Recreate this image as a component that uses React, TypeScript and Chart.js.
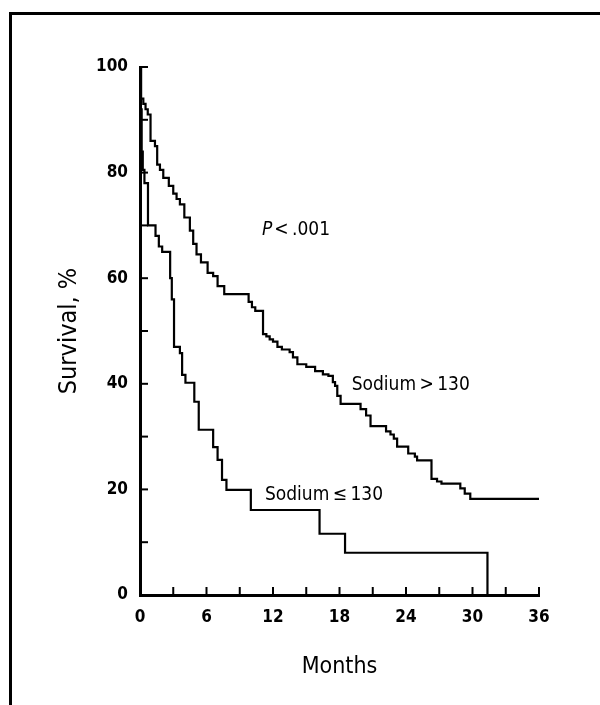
import React, { useEffect, useRef } from "react";
import { Chart, registerables } from "chart.js";

Chart.register(...registerables);

// ---- data ----
const lowMonths = [0, 0.05, 0.15, 0.25, 0.4, 0.72, 1.4, 1.7, 2.0, 2.72, 2.87, 3.07, 3.6, 3.8, 4.1, 4.9, 5.3, 6.6, 7.0, 7.4, 7.8, 10.0, 16.2, 18.5, 31.35];
const lowSurvival = [100, 92, 84, 80.5, 78, 70, 68, 66, 65, 60, 56, 47, 45.8, 41.7, 40.2, 36.6, 31.3, 28, 25.6, 21.8, 19.9, 16.1, 11.6, 8, 0];

const highMonths = [0, 0.1, 0.3, 0.5, 0.7, 0.95, 1.35, 1.55, 1.8, 2.1, 2.6, 3.0, 3.3, 3.6, 4.0, 4.5, 4.8, 5.1, 5.5, 6.1, 6.6, 7.0, 7.6, 9.8, 10.1, 10.4, 11.1, 11.4, 11.7, 12.0, 12.4, 12.8, 13.5, 13.8, 14.2, 15.0, 15.8, 16.5, 17.0, 17.4, 17.6, 17.8, 18.1, 19.9, 20.4, 20.8, 22.2, 22.6, 22.9, 23.2, 24.2, 24.8, 25.0, 26.3, 26.8, 27.2, 28.9, 29.3, 29.8, 36];
const highSurvival = [100, 94, 93, 92, 91, 86, 85, 81.5, 80.5, 79, 77.5, 76, 75, 74, 71.5, 69, 66.5, 64.5, 63, 61, 60.4, 58.5, 57, 55.5, 54.5, 53.8, 49.4, 49, 48.4, 48, 47, 46.5, 46, 45, 43.7, 43.2, 42.4, 41.8, 41.5, 40.3, 39.6, 37.7, 36.2, 35.2, 34, 32, 31, 30.4, 29.6, 28.1, 26.8, 26.2, 25.5, 22, 21.5, 21.1, 20.2, 19.2, 18.2, 18.2];

const xTickLabels = [0, 6, 12, 18, 24, 30, 36];
const yTickLabels = [0, 20, 40, 60, 80, 100];
const xMinorTicks = [0, 3, 6, 9, 12, 15, 18, 21, 24, 27, 30, 33, 36];
const yMinorTicks = [0, 10, 20, 30, 40, 50, 60, 70, 80, 90, 100];

const curveLabels = [
  { text: "Sodium\u2009>\u2009130", month: 19.1, pct: 39.8 },
  { text: "Sodium\u2009\u2264\u2009130", month: 11.27, pct: 18.9 },
];
const pLabel = { italic: "P", rest: "<\u2009.001", month: 11.0, pct: 69.1 };

const FONT = '"Liberation Sans Narrow", "DejaVu Sans Condensed", "Arial Narrow", Arial, sans-serif';

const decorPlugin = {
  id: "decor",
  afterDraw(chart: any) {
    const { ctx } = chart;
    const x = chart.scales.x;
    const y = chart.scales.y;
    ctx.save();
    ctx.strokeStyle = "#000";
    ctx.lineWidth = 2;
    const bottom = y.getPixelForValue(0);
    const left = x.getPixelForValue(0);
    for (const m of xMinorTicks) {
      const px = x.getPixelForValue(m);
      ctx.beginPath();
      ctx.moveTo(px, bottom);
      ctx.lineTo(px, bottom - 8);
      ctx.stroke();
    }
    for (const p of yMinorTicks) {
      const py = y.getPixelForValue(p);
      ctx.beginPath();
      ctx.moveTo(left, py);
      ctx.lineTo(left + 8, py);
      ctx.stroke();
    }
    ctx.fillStyle = "#000";
    ctx.textBaseline = "middle";
    ctx.textAlign = "left";
    ctx.font = `19px ${FONT}`;
    for (const a of curveLabels) {
      ctx.fillText(a.text, x.getPixelForValue(a.month), y.getPixelForValue(a.pct));
    }
    const px = x.getPixelForValue(pLabel.month);
    const py = y.getPixelForValue(pLabel.pct);
    ctx.font = `italic 19px ${FONT}`;
    ctx.fillText(pLabel.italic, px, py);
    const w = ctx.measureText(pLabel.italic).width;
    ctx.font = `19px ${FONT}`;
    ctx.fillText(pLabel.rest, px + w + 2, py);
    ctx.restore();
  },
};

export default function App() {
  const ref = useRef<HTMLCanvasElement | null>(null);
  useEffect(() => {
    if (!ref.current) return;
    const chart = new Chart(ref.current, {
      type: "line",
      data: {
        datasets: [
          {
            label: "Sodium > 130",
            data: highMonths.map((m, i) => ({ x: m, y: highSurvival[i] })),
            borderColor: "#000",
            borderWidth: 2.2,
            pointRadius: 0,
            stepped: "before",
            fill: false,
          },
          {
            label: "Sodium \u2264 130",
            data: lowMonths.map((m, i) => ({ x: m, y: lowSurvival[i] })),
            borderColor: "#000",
            borderWidth: 2.2,
            pointRadius: 0,
            stepped: "before",
            fill: false,
          },
        ],
      },
      options: {
        animation: false,
        responsive: false,
        devicePixelRatio: 1,
        clip: false as any,
        layout: { padding: { left: 0, right: 61, top: 67, bottom: 0 } },
        plugins: { legend: { display: false }, tooltip: { enabled: false } },
        scales: {
          x: {
            type: "linear",
            min: 0,
            max: 36,
            afterFit: (s: any) => { s.height = 110; },
            afterBuildTicks: (s: any) => { s.ticks = xTickLabels.map((v) => ({ value: v })); },
            grid: { display: false, drawTicks: false },
            border: { display: true, color: "#000", width: 3 },
            ticks: { color: "#000", padding: 12, font: { family: FONT, size: 17, weight: "bold" } },
            title: { display: true, text: "Months", color: "#000", font: { family: FONT, size: 23 }, padding: { top: 0, bottom: 24 } },
          },
          y: {
            type: "linear",
            min: 0,
            max: 100,
            afterFit: (s: any) => { s.width = 140; },
            afterBuildTicks: (s: any) => { s.ticks = yTickLabels.map((v) => ({ value: v })); },
            grid: { display: false, drawTicks: false },
            border: { display: true, color: "#000", width: 3 },
            ticks: { color: "#000", padding: 12, font: { family: FONT, size: 17, weight: "bold" } },
            title: { display: true, text: "Survival, %", color: "#000", font: { family: FONT, size: 25 }, padding: { top: 54, bottom: 0 } },
          },
        },
      },
      plugins: [decorPlugin],
    });
    return () => chart.destroy();
  }, []);

  return (
    <div style={{ position: "fixed", left: 0, top: 0, width: 600, height: 705, background: "#fff" }}>
      <canvas ref={ref} width={600} height={705} style={{ position: "absolute", left: 0, top: 0 }} />
      <div style={{ position: "absolute", left: 9, top: 12, right: 0, bottom: 0, borderTop: "3px solid #000", borderLeft: "3px solid #000" }} />
    </div>
  );
}
